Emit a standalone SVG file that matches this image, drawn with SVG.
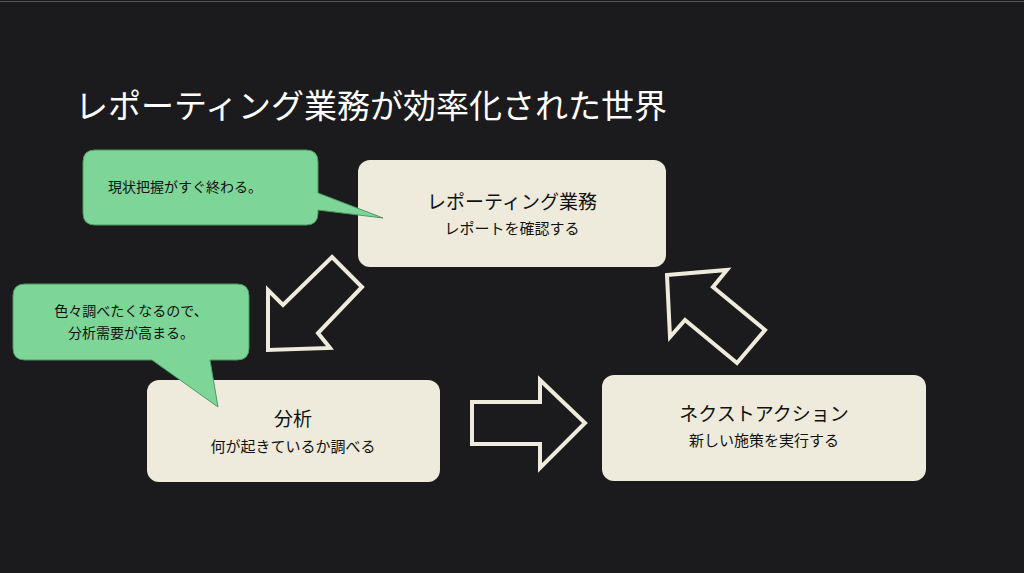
<svg xmlns="http://www.w3.org/2000/svg" width="1024" height="573" viewBox="0 0 1024 573">
<style>
text{font-family:"Noto Sans CJK JP","Noto Sans",sans-serif;}
.node{fill:#eeebdc;}
.t{font-size:19px;fill:#111;text-anchor:middle;}
.s{font-size:15px;fill:#111;text-anchor:middle;}
.bub{fill:#7dd597;stroke:#4d9a63;stroke-width:1;}
.b{font-size:14px;fill:#111;text-anchor:middle;}
.arr{fill:none;stroke:#eeebdc;stroke-width:4;stroke-linejoin:miter;}
</style>
<rect width="1024" height="573" fill="#1b1b1d"/>
<line x1="0" y1="1.5" x2="1024" y2="1.5" stroke="#555" stroke-width="1"/>
<text x="75" y="118" font-size="33" fill="#ffffff">レポーティング業務が効率化された世界</text>
<g id="connectors">
<polygon class="arr" points="332,257 362,287 318,333 330,348 268,350 268,290 283,305"/>
<polygon class="arr" points="472,402 540,402 540,380 585,423 540,468 540,444 472,444"/>
<polygon class="arr" points="667,275 727,270 713,287 765,330 737,363 685,320 670,337"/>
</g>
<g id="node-reporting">
<rect class="node" x="358" y="160" width="308" height="107" rx="12"/>
<text class="t" x="512" y="209">レポーティング業務</text>
<text class="s" x="512" y="234">レポートを確認する</text>
</g>
<g id="node-analysis">
<rect class="node" x="147" y="380" width="293" height="102" rx="12"/>
<text class="t" x="293" y="426">分析</text>
<text class="s" x="293" y="452">何が起きているか調べる</text>
</g>
<g id="node-action">
<rect class="node" x="602" y="375" width="324" height="106" rx="12"/>
<text class="t" x="764" y="421">ネクストアクション</text>
<text class="s" x="764" y="446">新しい施策を実行する</text>
</g>
<g id="callout-1">
<path class="bub" d="M95,150 H306 Q318,150 318,162 V193 L383,218 L318,210 V213 Q318,225 306,225 H95 Q83,225 83,213 V162 Q83,150 95,150 Z"/>
<text class="b" x="185" y="192">現状把握がすぐ終わる。</text>
</g>
<g id="callout-2">
<path class="bub" d="M25,284 H237 Q249,284 249,296 V348 Q249,360 237,360 H210 L218,407 L152,360 H25 Q13,360 13,348 V296 Q13,284 25,284 Z"/>
<text class="b" x="131" y="316">色々調べたくなるので、</text>
<text class="b" x="131" y="338">分析需要が高まる。</text>
</g>
</svg>
